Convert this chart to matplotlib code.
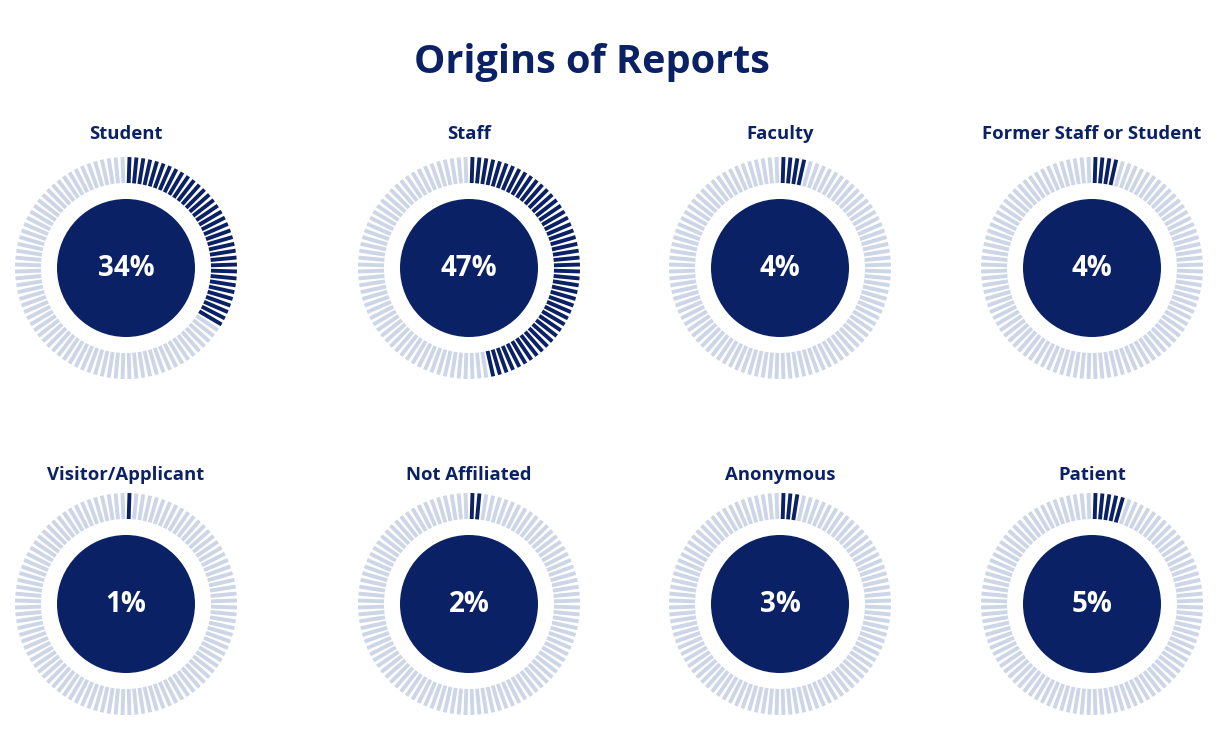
import numpy as np
import matplotlib.pyplot as plt
from matplotlib.collections import LineCollection
from matplotlib.patches import Circle

plt.rcParams['font.family'] = ['Open Sans', 'DejaVu Sans']

labels = ['Student', 'Staff', 'Faculty', 'Former Staff or Student',
          'Visitor/Applicant', 'Not Affiliated', 'Anonymous', 'Patient']
percents = [34, 47, 4, 4, 1, 2, 3, 5]

NAVY = '#0a2166'
LIGHT = '#cdd6e6'
W, H = 1220, 736

col_x = [126, 469, 780, 1092]
row_y = [268, 604]
label_y = [134, 475]
r_in, r_out, r_core = 85, 111, 69
n_ticks = 100

fig = plt.figure(figsize=(W / 100, H / 100), dpi=100)
ax = fig.add_axes([0, 0, 1, 1])
ax.set_xlim(0, W)
ax.set_ylim(H, 0)
ax.set_aspect('equal')
ax.axis('off')

ax.text(592, 62, 'Origins of Reports', ha='center', va='center',
        fontsize=28.5, fontweight='bold', color=NAVY)

for k, (lab, pct) in enumerate(zip(labels, percents)):
    cx = col_x[k % 4]
    cy = row_y[k // 4]
    ang = np.deg2rad((np.arange(n_ticks) + 0.5) * 360 / n_ticks)
    segs = [[(cx + r_in * np.sin(a), cy - r_in * np.cos(a)),
             (cx + r_out * np.sin(a), cy - r_out * np.cos(a))] for a in ang]
    colors = [NAVY if i < pct else LIGHT for i in range(n_ticks)]
    ax.add_collection(LineCollection(segs, colors=colors, linewidths=2.8,
                                     capstyle='butt'))
    ax.add_patch(Circle((cx, cy), r_core, color=NAVY, lw=0))
    ax.text(cx, cy, f'{pct}%', ha='center', va='center', fontsize=20,
            fontweight='bold', color='white')
    ax.text(cx, label_y[k // 4], lab, ha='center', va='center', fontsize=13.3,
            fontweight='bold', color=NAVY)

fig.savefig('out.png', dpi=100)
